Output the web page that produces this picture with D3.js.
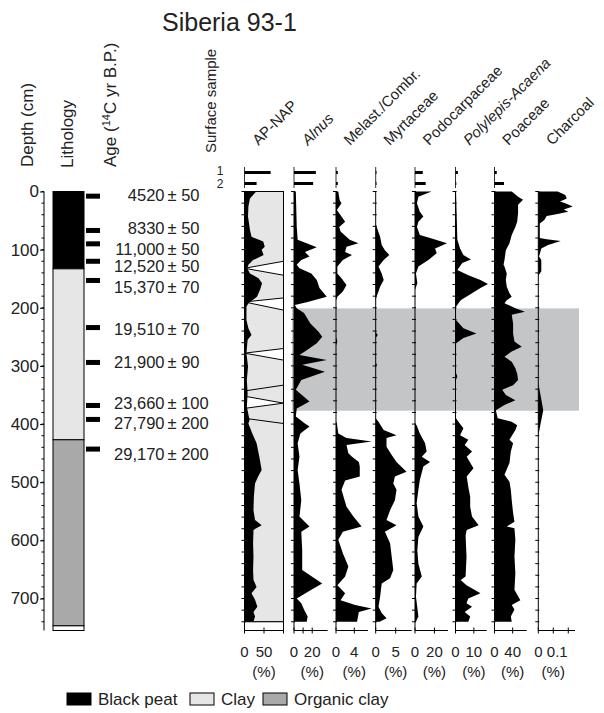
<!DOCTYPE html>
<html>
<head>
<meta charset="utf-8">
<script src="https://cdn.jsdelivr.net/npm/d3@7"></script>
<style>
body{margin:0;background:#fff}
text{font-family:"Liberation Sans",Arial,sans-serif;fill:#222}
</style>
</head>
<body>
<script>
// ---- data ----
const taxa = ["AP-NAP","Alnus","Melast./Combr.","Myrtaceae","Podocarpaceae","Polylepis-Acaena","Poaceae","Charcoal"];
const taxonItalic = [false,true,false,false,false,true,false,false];
const taxonMax = [100,37,7,9,34,17,71,0.245];
const taxonTicks = [[0,50,100],[0,10,20],[0,4],[0,5],[0,20],[0,10],[0,40],[0,0.1,0.2]];
const taxonLabelTicks = [[0,50],[0,20],[0,4],[0,5],[0,20],[0,10],[0,40],[0,0.1]];
const surface1 = [67,24,0.4,0,8,1.3,5,null];
const surface2 = [31,21,0.4,0,11,0.3,21,null];

// [depth cm, value]
const apNap = [[0,30],[12,14],[26,10],[43,9],[66,14],[78,18],[86,48],[95,52],[100,44],[109,49],[118,22],[126,10],[132,7],[141,14],[149,36],[158,45],[169,40],[181,32],[192,10],[198,5],[221,5],[235,10],[247,18],[255,8],[278,5],[301,9],[324,6],[347,8],[370,6],[393,13],[399,10],[416,20],[433,31],[456,38],[479,44],[490,35],[502,27],[525,24],[548,23],[565,27],[574,44],[582,23],[605,22],[628,23],[651,22],[668,23],[680,31],[691,18],[702,27],[714,33],[723,23],[731,27],[740,23]];
const alnus = [[0,2],[60,3],[83,4],[96,25],[104,12],[112,17],[118,8],[126,3],[132,6],[141,19],[152,25],[166,28],[181,36],[190,15],[195,1],[201,3],[209,11],[227,18],[241,27],[250,31],[261,25],[273,14],[281,6],[290,36],[298,9],[310,34],[324,8],[341,2],[361,17],[373,3],[387,2],[399,12],[404,17],[416,7],[433,4],[456,6],[479,4],[502,6],[531,8],[559,6],[576,17],[585,8],[617,9],[651,9],[674,31],[685,19],[700,3],[708,8],[719,11],[731,15],[740,14]];
const melast = [[0,0.5],[15,0.8],[20,1.2],[32,0.2],[52,2],[61,0.7],[69,1],[83,3],[89,4.9],[95,2.3],[104,2],[109,3.5],[118,1.5],[129,0.3],[141,0.3],[149,1.2],[161,2.3],[172,1.5],[181,0.3],[187,0],[250,0],[258,0.3],[265,0],[395,0],[399,0.2],[416,0.5],[424,2.3],[430,7.8],[436,2.3],[450,2.7],[456,3.5],[465,5],[473,5.2],[490,5.2],[497,2],[513,1.2],[542,2.3],[559,3.8],[576,5.6],[585,1.5],[599,0.5],[622,1.5],[645,2.7],[662,2],[677,0.3],[691,2],[703,1],[711,4.2],[717,7.8],[723,5],[740,4.6]];
const myrtaceae = [[0,0],[55,0],[61,0.25],[78,1.1],[92,1.5],[101,2.3],[109,3.4],[118,2],[129,0.7],[141,1.5],[152,2],[164,1.1],[172,0.7],[181,0.2],[187,0],[242,0],[247,0.5],[252,0],[294,0],[298,0.3],[302,0],[390,0],[396,0.7],[410,2],[419,5.2],[424,2.7],[439,2.7],[453,4],[465,5.2],[482,7.7],[490,4.8],[502,4.4],[513,5.2],[531,4.8],[548,3.6],[565,2.7],[574,5.2],[585,2.3],[605,3.6],[628,4],[651,4.4],[665,3.6],[674,1.5],[697,1.1],[714,0.7],[725,1.5],[734,2.7],[740,1]];
const podocarp = [[0,17],[9,3.5],[20,2],[35,5],[43,8.6],[52,3.5],[61,2],[75,5],[80,15.5],[89,33],[98,20.7],[106,22.4],[118,13.8],[129,3.5],[141,1],[158,2.4],[169,0],[399,0],[402,1.7],[416,5],[433,10.4],[447,12],[456,7],[465,15.5],[473,8.6],[496,5],[513,3.5],[536,1.7],[559,3.5],[576,8.6],[594,3.5],[617,2.4],[640,3.5],[662,7],[674,1.7],[697,1],[731,3.5],[740,1]];
const polylepis = [[0,0.3],[83,1],[98,2.5],[109,4.3],[117,8.4],[123,3.7],[135,1],[144,7],[152,13.6],[159,17.7],[166,13.6],[175,9],[187,2.8],[198,0.3],[221,0.3],[235,4.3],[244,11.4],[252,4.3],[261,0.3],[312,0.3],[318,1],[324,0.2],[390,0.3],[396,1.6],[407,4.3],[419,2.5],[427,7],[436,5],[447,9],[456,6.1],[476,9.8],[490,6.1],[508,7],[525,8],[542,8],[559,9],[574,12.6],[582,6.1],[591,5.5],[628,6],[662,5.5],[668,2.8],[677,6],[691,13.6],[700,7],[708,6],[714,9],[723,5],[731,8],[740,7]];
const poaceae = [[0,38],[9,52],[14,63],[23,52],[37,52],[52,50],[61,46],[75,38],[89,33],[101,25],[118,22],[126,20],[129,22],[141,27],[152,25],[164,27],[175,33],[181,38],[187,27],[192,22],[201,46],[207,67],[212,38],[227,41],[244,41],[258,44],[267,60],[275,38],[284,22],[293,38],[304,46],[313,50],[324,52],[333,41],[341,17],[350,25],[359,46],[367,22],[376,3],[390,7],[396,38],[402,50],[410,46],[427,33],[433,41],[447,36],[467,33],[487,22],[499,33],[513,36],[531,38],[553,41],[568,44],[576,27],[579,44],[599,46],[628,44],[657,46],[685,44],[703,57],[711,38],[719,44],[731,36],[740,38]];
const charcoal = [[0,0.13],[6,0.18],[12,0.19],[17,0.145],[20,0.18],[26,0.23],[31,0.17],[35,0.2],[39,0.12],[42,0.056],[49,0.04],[55,0.01],[80,0.01],[82,0.056],[85,0.15],[92,0.065],[98,0.02],[112,0.005],[118,0.02],[137,0.02],[145,0],[330,0],[350,0.015],[376,0.033],[400,0.015],[420,0],[740,0]];
const series = [apNap,alnus,melast,myrtaceae,podocarp,polylepis,poaceae,charcoal];

// AP-NAP section wedges: [side (0 left,1 right), depth]
const apWedges = [
  [[0,132],[1,120],[1,144]],
  [[0,190],[1,183],[1,204]],
  [[0,278],[1,270],[1,290]],
  [[1,364],[0,352],[0,373]]
];
const apLines = [[343,333],[390,399]]; // [left depth, right depth]

const lithoNames = ["Black peat","Clay","Organic clay"];
const lithoTop = [0,133,427,747];
const lithoBase = [133,427,747,755];
const lithoType = [0,1,2,3];

const dateDepth = [8,67,90,120,153,234,294,368,392,443];
const dateAge = ["4520","8330","11,000","12,520","15,370","19,510","21,900","23,660","27,790","29,170"];
const dateErr = ["50","50","50","50","70","70","90","100","200","200"];
const dateLabelDepth = [6,63,99,128,164,236,294,364,398,451];

const depthTicks = [0,100,200,300,400,500,600,700];
const bandTop = 201, bandBase = 377;
const coreBase = 755, dataBase = 740;

// ---- layout ----
const lithoFill = ["#000","#e6e6e6","#a9a9a9","#fff"];
const panelX0 = [244.5,294,336,375.7,415,455.5,494.5,538.3];
const panelX1 = [283.5,327.7,368,411.7,448,486.7,526.7,575];

const svg = d3.select("body").append("svg").attr("width",604).attr("height",713);
const y = d3.scaleLinear().domain([0,coreBase]).range([191.5,630.5]);

svg.append("text").attr("x",162).attr("y",31).style("font-size","25px").text("Siberia 93-1");

// column headers
function vlabel(x,yb,size){
  return svg.append("text").attr("transform",`translate(${x},${yb}) rotate(-90)`).style("font-size",size+"px");
}
vlabel(33,167,17).text("Depth (cm)");
vlabel(73,168,17).text("Lithology");
const age = vlabel(116,167,17);
age.append("tspan").text("Age (");
age.append("tspan").attr("dy",-6).style("font-size","11px").text("14");
age.append("tspan").attr("dy",6).text("C yr B.P.)");
vlabel(216,153,15).text("Surface sample");
svg.append("text").attr("x",220).attr("y",175).attr("text-anchor","middle").style("font-size","12px").text("1");
svg.append("text").attr("x",220).attr("y",188).attr("text-anchor","middle").style("font-size","12px").text("2");

// depth axis
const depthAxis = svg.append("g").attr("transform","translate(44,0)")
  .call(d3.axisLeft(y).tickValues(depthTicks).tickSize(4).tickSizeOuter(0).tickPadding(1));
depthAxis.selectAll("text").style("font-size","17px").attr("fill","#222");
depthAxis.select(".domain").attr("d",`M0,${y(0)}V${y(coreBase)}`);
depthAxis.selectAll(".minor").data(d3.range(0,coreBase,20)).join("line")
  .attr("x1",-2.5).attr("x2",0).attr("y1",d=>y(d)).attr("y2",d=>y(d)).attr("stroke","#000");

// lithology
svg.append("g").selectAll("rect").data(lithoTop).join("rect")
  .attr("x",53).attr("width",31)
  .attr("y",d=>y(d)).attr("height",(d,i)=>y(lithoBase[i])-y(d))
  .attr("fill",(d,i)=>lithoFill[lithoType[i]]).attr("stroke","#000").attr("stroke-width",1);

// dates
svg.append("g").selectAll("rect").data(dateDepth).join("rect")
  .attr("x",86).attr("width",14).attr("y",d=>y(d)-2.5).attr("height",5).attr("fill","#000");
const dl = svg.append("g").style("font-size","16.5px");
dl.selectAll(".age").data(dateAge).join("text").attr("class","age")
  .attr("x",164.5).attr("y",(d,i)=>y(dateLabelDepth[i])+6).attr("text-anchor","end").text(d=>d);
dl.selectAll(".err").data(dateErr).join("text").attr("class","err")
  .attr("x",167.5).attr("y",(d,i)=>y(dateLabelDepth[i])+6).text(d=>"\u00b1 "+d);

// grey band
svg.append("rect").attr("x",292).attr("width",287)
  .attr("y",y(bandTop)).attr("height",y(bandBase)-y(bandTop)).attr("fill","#c3c5c6");

// panels
taxa.forEach((name,i)=>{
  const x0 = panelX0[i], x1 = panelX1[i];
  const x = d3.scaleLinear().domain([0,taxonMax[i]]).range([x0,x1]);
  const g = svg.append("g");

  if(i===0){
    g.append("rect").attr("x",x(0)).attr("width",x(100)-x(0))
      .attr("y",y(0)).attr("height",y(dataBase)-y(0)).attr("fill","#e6e6e6");
    g.selectAll(".wedge").data(apWedges).join("polygon").attr("class","wedge")
      .attr("points",d=>d.map(p=>[x(p[0]*100),y(p[1])].join(",")).join(" "))
      .attr("fill","#fff").attr("stroke","#000").attr("stroke-width",1);
    g.selectAll(".cut").data(apLines).join("line").attr("class","cut")
      .attr("x1",x(0)).attr("x2",x(100)).attr("y1",d=>y(d[0])).attr("y2",d=>y(d[1]))
      .attr("stroke","#000");
  }

  const area = d3.area().x0(x(0)).x1(d=>x(d[1])).y(d=>y(d[0]));
  g.append("path").attr("d",area(series[i])).attr("fill","#000");

  if(i===0){
    g.append("rect").attr("x",x(0)).attr("width",x(100)-x(0))
      .attr("y",y(0)).attr("height",y(dataBase)-y(0)).attr("fill","none").attr("stroke","#000");
    g.append("rect").attr("x",x(0)).attr("width",x(100)-x(0))
      .attr("y",y(dataBase)).attr("height",y(coreBase)-y(dataBase)).attr("fill","#fff").attr("stroke","#000");
  }

  // depth axis of the panel
  g.append("line").attr("x1",x0).attr("x2",x0).attr("y1",y(0)).attr("y2",y(coreBase)).attr("stroke","#000");
  g.selectAll(".tk").data(d3.range(0,coreBase,20)).join("line").attr("class","tk")
    .attr("x1",x0-3).attr("x2",x0+1).attr("y1",d=>y(d)).attr("y2",d=>y(d)).attr("stroke","#000");

  // bottom axis
  const by = y(coreBase);
  g.append("line").attr("x1",x0).attr("x2",x1).attr("y1",by).attr("y2",by).attr("stroke","#000");
  g.selectAll(".bt").data(taxonTicks[i]).join("line").attr("class","bt")
    .attr("x1",d=>x(d)).attr("x2",d=>x(d)).attr("y1",by-3).attr("y2",by+3).attr("stroke","#000");
  g.selectAll(".bl").data(taxonLabelTicks[i]).join("text").attr("class","bl")
    .attr("x",(d,k)=>x(d)+(i===7&&k===1?4:0)).attr("y",657).attr("text-anchor","middle")
    .style("font-size","15px").text(d=>d);
  g.append("text").attr("x",x(taxonLabelTicks[i][1])).attr("y",677).attr("text-anchor","middle")
    .style("font-size","15px").text("(%)");

  // surface samples
  if(surface1[i]!==null){
    g.append("line").attr("x1",x0).attr("x2",x0).attr("y1",167).attr("y2",188).attr("stroke","#000").attr("stroke-width",0.8);
    g.selectAll(".sf").data([surface1[i],surface2[i]]).join("rect").attr("class","sf")
      .attr("x",x0).attr("width",d=>Math.max(0.8,x(d)-x0))
      .attr("y",(d,k)=>k===0?171:182).attr("height",3).attr("fill","#000");
  }

  // rotated name
  g.append("text").attr("transform",`translate(${x0+14},146) rotate(-45)`)
    .style("font-size","15px").style("font-style",taxonItalic[i]?"italic":"normal").text(name);
});

// legend
const leg = svg.append("g").style("font-size","17px");
const legX = [67,190,263];
leg.selectAll("rect").data(lithoNames).join("rect")
  .attr("x",(d,i)=>legX[i]).attr("y",693).attr("width",24).attr("height",12)
  .attr("fill",(d,i)=>lithoFill[i]).attr("stroke","#000");
leg.selectAll("text").data(lithoNames).join("text")
  .attr("x",(d,i)=>legX[i]+31).attr("y",705).text(d=>d);
</script>
</body>
</html>
